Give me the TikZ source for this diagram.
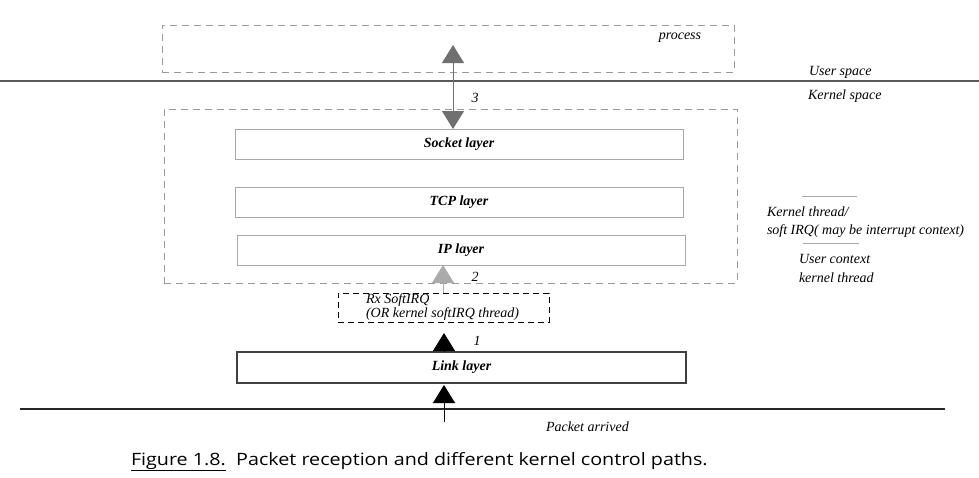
\documentclass[tikz,border=0pt]{standalone}
\usepackage{fontspec}
\setmainfont{Liberation Serif}
\newfontfamily\capfont{Open Sans}
\usetikzlibrary{arrows.meta}
\definecolor{boxgray}{HTML}{A8A8A8}
\definecolor{dashgray}{HTML}{9A9A9A}
\definecolor{arrgray}{HTML}{707070}
\definecolor{lightarr}{HTML}{ABABAB}
\begin{document}
\begin{tikzpicture}[x=1pt,y=-1pt,
  every node/.style={inner sep=0pt,outer sep=0pt},
  txt/.style={font=\fontsize{14}{16}\selectfont\itshape},
  dbox/.style={draw=dashgray,line width=0.9pt,dash pattern=on 7pt off 5pt},
  layerbox/.style={draw=boxgray,line width=1pt,font=\fontsize{14}{16}\selectfont\bfseries\itshape},
  headA/.style={-{Triangle[width=22pt,length=18pt]}}
]
\useasboundingbox (0,0) rectangle (979,477);
% boxes
\node[dbox,minimum width=572pt,minimum height=47pt,anchor=north west] (proc) at (162,25) {};
\node[dbox,minimum width=573pt,minimum height=174pt,anchor=north west] (kern) at (164,109) {};
\node[layerbox,minimum width=448pt,minimum height=30pt,anchor=north west] (sock) at (235,129) {Socket layer};
\node[layerbox,minimum width=448pt,minimum height=30pt,anchor=north west] (tcp) at (235,187) {TCP layer};
\node[layerbox,minimum width=448pt,minimum height=30pt,anchor=north west] (ip) at (237,235) {IP layer};
\node[draw=black,line width=0.9pt,dash pattern=on 6pt off 4pt,minimum width=211pt,minimum height=29pt,anchor=north west] (sirq) at (338,293) {};
\node[txt,anchor=west,align=left] (sirqt) at (366,307) {Rx SoftIRQ\\[-2pt](OR kernel softIRQ thread)};
\node[layerbox,draw=black!75,line width=1.1pt,minimum width=449pt,minimum height=31pt,anchor=north west] (link) at (237,352) {Link layer};
% lines
\draw[black!65,line width=1.8pt] (0,81) -- (979,81);
\draw[black!85,line width=1.5pt] (20,409) -- (945,409);
% labels
\node[txt] (proct) at (680,38) {process};
\node[txt,anchor=west] (usp) at (809,72) {User space};
\node[txt,anchor=west] (ksp) at (808,96) {Kernel space};
\node[txt,anchor=west] (pa) at (546,427) {Packet arrived};
\node[txt] (n3) at (475,98) {3};
\node[txt] (n2) at (475,277) {2};
\node[txt] (n1) at (477,341) {1};
% legend
\draw[boxgray,line width=1pt] (802,196) -- (857,196);
\draw[boxgray,line width=1pt] (803,243) -- (859,243);
\node[txt,anchor=west] (l1) at (767,212) {Kernel thread/};
\node[txt,anchor=west] (l2) at (767,231) {soft IRQ( may be interrupt context)};
\node[txt,anchor=west] (l3) at (799,259) {User context};
\node[txt,anchor=west] (l4) at (799,278) {kernel thread};
% arrows
\coordinate (ptop) at (453,45);
\coordinate (pin) at (444,422);
\draw[arrgray,line width=1pt,{Triangle[width=22pt,length=18pt]}-{Triangle[width=22pt,length=18pt]}] (ptop) -- (sock.north -| ptop);
\draw[lightarr,line width=1pt,headA] (sirq.north -| 443,0) -- (ip.south -| 443,0);
\draw[black,line width=1pt,dash pattern=on 3pt off 2pt,headA,shorten >=11pt] (link.north -| pin) -- (sirq.south -| pin);
\draw[black,line width=1pt,headA] (pin) -- ([yshift=-2pt]link.south -| pin);
% caption
\node[anchor=base west,font=\capfont\fontsize{17}{20}\selectfont] (cap) at (131,465) {\scalebox{1.16}[1]{\underline{Figure 1.8.}\ \ Packet reception and different kernel control paths.}};
\end{tikzpicture}
\end{document}
